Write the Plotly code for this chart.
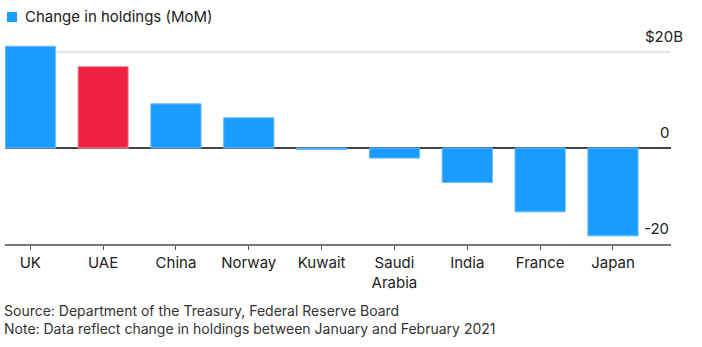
import plotly.graph_objects as go

countries = ["UK", "UAE", "China", "Norway", "Kuwait", "Saudi Arabia", "India", "France", "Japan"]
tick_labels = ["UK", "UAE", "China", "Norway", "Kuwait", "Saudi<br>Arabia", "India", "France", "Japan"]
change_bn = [21.2, 17.0, 9.2, 6.3, -0.3, -2.1, -7.2, -13.3, -18.3]
highlight = "UAE"
y_ticks = [20, 0, -20]
y_tick_text = ["$20B", "0", "-20"]
legend_label = "Change in holdings (MoM)"
footnotes = [
    "Source: Department of the Treasury, Federal Reserve Board",
    "Note: Data reflect change in holdings between January and February 2021",
]

BLUE = "#1b9cff"
RED = "#ee2240"
colors = [RED if c == highlight else BLUE for c in countries]
edge = ["#f3a0ad" if c == highlight else "#69bcff" for c in countries]

W, H = 702, 347
ML, MR, MT, MB = 5, 31, 40, 103
plot_w = W - ML - MR
plot_h = H - MT - MB

def px_x(px):
    return (px - ML) / plot_w

def px_y(py):
    return (H - MB - py) / plot_h

fig = go.Figure()
fig.add_trace(go.Bar(
    x=list(range(len(countries))),
    y=change_bn,
    marker=dict(color=colors, line=dict(color=edge, width=1)),
    hovertext=countries,
    showlegend=False,
))

font_family = "Inter, Liberation Sans, Arial, sans-serif"

annotations = []
for v, t in zip(y_ticks, y_tick_text):
    annotations.append(dict(
        x=1, xref="paper", y=v, yref="y", text=t, showarrow=False,
        xanchor="right", yanchor="bottom", yshift=4,
        xshift=14 if t.startswith("$") else 0,
        font=dict(size=15, color="#222", family=font_family),
    ))

annotations.append(dict(
    x=px_x(23), xref="paper", y=px_y(17), yref="paper",
    text=legend_label, showarrow=False,
    xanchor="left", yanchor="middle",
    font=dict(size=15, color="#222", family=font_family),
))
annotations.append(dict(
    x=px_x(3), xref="paper", y=px_y(319.5), yref="paper",
    text="<br>".join(footnotes), showarrow=False,
    xanchor="left", yanchor="middle", align="left", borderpad=0,
    font=dict(size=14, color="#333", family=font_family),
))

fig.update_layout(
    width=W, height=H,
    margin=dict(l=ML, r=MR, t=MT, b=MB),
    paper_bgcolor="white", plot_bgcolor="white",
    bargap=0.31,
    font=dict(family=font_family, size=15, color="#222"),
    annotations=annotations,
    shapes=[dict(
        type="rect", xref="paper", yref="paper",
        x0=px_x(7), x1=px_x(17), y0=px_y(22), y1=px_y(12),
        fillcolor=BLUE, line=dict(width=0),
    )],
    xaxis=dict(
        range=[-0.347, 8.797],
        tickmode="array", tickvals=list(range(len(countries))), ticktext=tick_labels,
        ticks="outside", ticklen=4, tickcolor="#555", tickwidth=1,
        showline=True, linecolor="#777", linewidth=2,
        showgrid=False, zeroline=False,
        tickfont=dict(size=15, color="#222", family=font_family),
        fixedrange=True,
    ),
    yaxis=dict(
        range=[-20, 22.5],
        tickmode="array", tickvals=y_ticks, showticklabels=False,
        showgrid=True, gridcolor="#e6e6e6", gridwidth=2,
        zeroline=True, zerolinecolor="#444", zerolinewidth=1.5,
        fixedrange=True,
    ),
)

fig.write_html("out.html", config={"displayModeBar": False})
